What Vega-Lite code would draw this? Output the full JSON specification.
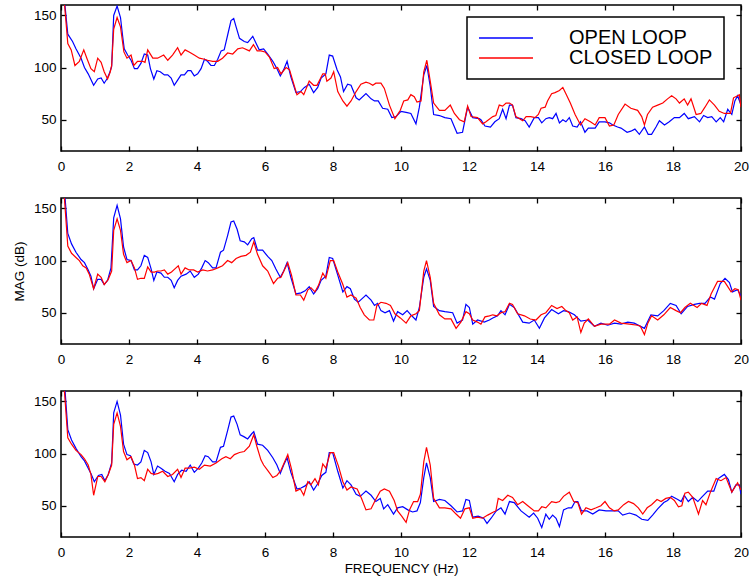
{
  "$schema": "https://vega.github.io/schema/vega-lite/v6.json",
  "background": "white",
  "padding": {"left": 11, "top": 3, "right": 5, "bottom": 5},
  "spacing": 47,
  "bounds": "flush",
  "datasets": {
    "top_open": [
      {"f":0,"m":200},{"f":0.1,"m":165},{"f":0.2,"m":132},{"f":0.34,"m":125},{"f":0.44,"m":118},{"f":0.59,"m":109},{"f":0.69,"m":100},{"f":0.8,"m":94},{"f":0.96,"m":83},{"f":1.08,"m":89},{"f":1.18,"m":90},{"f":1.27,"m":85},{"f":1.35,"m":89},{"f":1.42,"m":94},{"f":1.49,"m":101},{"f":1.55,"m":150},{"f":1.65,"m":159},{"f":1.75,"m":148},{"f":1.81,"m":131},{"f":1.86,"m":118},{"f":1.96,"m":112},{"f":2.06,"m":107},{"f":2.16,"m":99},{"f":2.25,"m":99},{"f":2.35,"m":104},{"f":2.45,"m":113},{"f":2.55,"m":112},{"f":2.63,"m":99},{"f":2.73,"m":89},{"f":2.82,"m":97},{"f":2.92,"m":96},{"f":3.04,"m":93},{"f":3.14,"m":93},{"f":3.24,"m":90},{"f":3.33,"m":83},{"f":3.43,"m":88},{"f":3.53,"m":93},{"f":3.63,"m":93},{"f":3.73,"m":97},{"f":3.82,"m":97},{"f":3.92,"m":92},{"f":4.02,"m":94},{"f":4.12,"m":99},{"f":4.22,"m":108},{"f":4.31,"m":106},{"f":4.41,"m":102},{"f":4.51,"m":102},{"f":4.61,"m":108},{"f":4.71,"m":116},{"f":4.8,"m":117},{"f":4.9,"m":131},{"f":5.0,"m":145},{"f":5.08,"m":147},{"f":5.15,"m":139},{"f":5.25,"m":128},{"f":5.39,"m":125},{"f":5.49,"m":124},{"f":5.64,"m":130},{"f":5.74,"m":123},{"f":5.83,"m":117},{"f":5.96,"m":118},{"f":6.08,"m":113},{"f":6.23,"m":106},{"f":6.35,"m":99},{"f":6.45,"m":92},{"f":6.55,"m":98},{"f":6.65,"m":106},{"f":6.76,"m":91},{"f":6.91,"m":76},{"f":7.04,"m":77},{"f":7.16,"m":81},{"f":7.3,"m":84},{"f":7.43,"m":76},{"f":7.55,"m":81},{"f":7.65,"m":90},{"f":7.79,"m":94},{"f":7.89,"m":112},{"f":7.99,"m":111},{"f":8.12,"m":98},{"f":8.22,"m":91},{"f":8.31,"m":77},{"f":8.43,"m":84},{"f":8.53,"m":83},{"f":8.68,"m":71},{"f":8.77,"m":69},{"f":8.97,"m":75},{"f":9.12,"m":70},{"f":9.22,"m":68},{"f":9.33,"m":68},{"f":9.46,"m":61},{"f":9.61,"m":60},{"f":9.73,"m":52},{"f":9.85,"m":53},{"f":10.0,"m":58},{"f":10.15,"m":57},{"f":10.29,"m":56},{"f":10.44,"m":46},{"f":10.54,"m":62},{"f":10.67,"m":93},{"f":10.76,"m":102},{"f":10.86,"m":82},{"f":10.96,"m":55},{"f":11.13,"m":54},{"f":11.29,"m":52},{"f":11.47,"m":51},{"f":11.65,"m":37},{"f":11.81,"m":38},{"f":11.96,"m":62},{"f":12.11,"m":52},{"f":12.3,"m":51},{"f":12.35,"m":50},{"f":12.47,"m":44},{"f":12.63,"m":43},{"f":12.76,"m":48},{"f":12.89,"m":51},{"f":12.99,"m":60},{"f":13.09,"m":51},{"f":13.19,"m":64},{"f":13.28,"m":64},{"f":13.38,"m":52},{"f":13.53,"m":51},{"f":13.65,"m":49},{"f":13.77,"m":43},{"f":13.92,"m":52},{"f":14.04,"m":52},{"f":14.14,"m":47},{"f":14.26,"m":51},{"f":14.36,"m":52},{"f":14.46,"m":51},{"f":14.56,"m":56},{"f":14.66,"m":47},{"f":14.76,"m":50},{"f":14.85,"m":48},{"f":14.95,"m":52},{"f":15.05,"m":44},{"f":15.18,"m":43},{"f":15.28,"m":48},{"f":15.41,"m":38},{"f":15.51,"m":42},{"f":15.71,"m":42},{"f":15.83,"m":48},{"f":16.0,"m":48},{"f":16.13,"m":47},{"f":16.23,"m":45},{"f":16.37,"m":43},{"f":16.47,"m":42},{"f":16.65,"m":38},{"f":16.76,"m":39},{"f":16.88,"m":41},{"f":17.01,"m":36},{"f":17.16,"m":43},{"f":17.27,"m":36},{"f":17.37,"m":36},{"f":17.5,"m":43},{"f":17.6,"m":49},{"f":17.75,"m":45},{"f":17.89,"m":48},{"f":18.04,"m":52},{"f":18.19,"m":52},{"f":18.33,"m":56},{"f":18.45,"m":51},{"f":18.63,"m":53},{"f":18.78,"m":48},{"f":18.9,"m":54},{"f":19.02,"m":52},{"f":19.14,"m":53},{"f":19.27,"m":48},{"f":19.39,"m":52},{"f":19.49,"m":48},{"f":19.61,"m":60},{"f":19.73,"m":55},{"f":19.82,"m":68},{"f":19.9,"m":73},{"f":20,"m":64}
    ],
    "top_closed": [
      {"f":0,"m":200},{"f":0.1,"m":162},{"f":0.2,"m":123},{"f":0.3,"m":117},{"f":0.41,"m":102},{"f":0.54,"m":106},{"f":0.67,"m":117},{"f":0.76,"m":109},{"f":0.88,"m":99},{"f":0.98,"m":96},{"f":1.08,"m":109},{"f":1.18,"m":105},{"f":1.27,"m":96},{"f":1.37,"m":89},{"f":1.45,"m":96},{"f":1.49,"m":102},{"f":1.55,"m":137},{"f":1.65,"m":148},{"f":1.75,"m":139},{"f":1.85,"m":115},{"f":1.94,"m":109},{"f":2.06,"m":112},{"f":2.14,"m":102},{"f":2.25,"m":106},{"f":2.4,"m":106},{"f":2.47,"m":105},{"f":2.55,"m":117},{"f":2.7,"m":109},{"f":2.84,"m":109},{"f":3.02,"m":112},{"f":3.14,"m":107},{"f":3.28,"m":112},{"f":3.43,"m":119},{"f":3.53,"m":112},{"f":3.65,"m":117},{"f":3.77,"m":115},{"f":3.92,"m":112},{"f":4.07,"m":109},{"f":4.22,"m":108},{"f":4.31,"m":107},{"f":4.46,"m":106},{"f":4.61,"m":106},{"f":4.75,"m":109},{"f":4.9,"m":114},{"f":5.05,"m":113},{"f":5.2,"m":118},{"f":5.34,"m":119},{"f":5.54,"m":116},{"f":5.66,"m":122},{"f":5.77,"m":116},{"f":5.88,"m":116},{"f":6.0,"m":115},{"f":6.13,"m":110},{"f":6.27,"m":99},{"f":6.37,"m":100},{"f":6.47,"m":94},{"f":6.62,"m":100},{"f":6.72,"m":98},{"f":6.94,"m":74},{"f":7.06,"m":77},{"f":7.14,"m":74},{"f":7.3,"m":87},{"f":7.43,"m":83},{"f":7.53,"m":83},{"f":7.7,"m":94},{"f":7.77,"m":94},{"f":7.82,"m":87},{"f":7.94,"m":90},{"f":8.02,"m":96},{"f":8.14,"m":77},{"f":8.29,"m":68},{"f":8.41,"m":63},{"f":8.53,"m":68},{"f":8.68,"m":77},{"f":8.82,"m":84},{"f":8.97,"m":86},{"f":9.07,"m":85},{"f":9.17,"m":83},{"f":9.26,"m":85},{"f":9.41,"m":85},{"f":9.51,"m":80},{"f":9.66,"m":64},{"f":9.82,"m":51},{"f":9.98,"m":59},{"f":10.08,"m":68},{"f":10.2,"m":69},{"f":10.29,"m":74},{"f":10.39,"m":72},{"f":10.47,"m":67},{"f":10.59,"m":68},{"f":10.67,"m":96},{"f":10.76,"m":107},{"f":10.86,"m":87},{"f":10.96,"m":66},{"f":11.13,"m":59},{"f":11.29,"m":59},{"f":11.45,"m":64},{"f":11.57,"m":56},{"f":11.72,"m":50},{"f":11.86,"m":48},{"f":11.96,"m":63},{"f":12.06,"m":53},{"f":12.25,"m":52},{"f":12.4,"m":46},{"f":12.5,"m":48},{"f":12.7,"m":53},{"f":12.79,"m":54},{"f":12.89,"m":64},{"f":12.99,"m":63},{"f":13.09,"m":66},{"f":13.19,"m":66},{"f":13.28,"m":64},{"f":13.38,"m":53},{"f":13.58,"m":49},{"f":13.68,"m":53},{"f":13.82,"m":53},{"f":13.94,"m":52},{"f":14.04,"m":55},{"f":14.12,"m":61},{"f":14.24,"m":62},{"f":14.31,"m":68},{"f":14.43,"m":75},{"f":14.53,"m":76},{"f":14.66,"m":78},{"f":14.76,"m":81},{"f":14.85,"m":75},{"f":14.98,"m":66},{"f":15.12,"m":55},{"f":15.28,"m":45},{"f":15.41,"m":51},{"f":15.57,"m":48},{"f":15.71,"m":45},{"f":15.83,"m":52},{"f":16.0,"m":52},{"f":16.13,"m":44},{"f":16.26,"m":45},{"f":16.39,"m":55},{"f":16.59,"m":65},{"f":16.76,"m":61},{"f":16.96,"m":59},{"f":17.08,"m":53},{"f":17.16,"m":45},{"f":17.25,"m":55},{"f":17.4,"m":62},{"f":17.55,"m":64},{"f":17.7,"m":66},{"f":17.84,"m":70},{"f":17.96,"m":73},{"f":18.09,"m":70},{"f":18.19,"m":66},{"f":18.33,"m":70},{"f":18.43,"m":64},{"f":18.53,"m":70},{"f":18.68,"m":55},{"f":18.82,"m":56},{"f":18.94,"m":62},{"f":19.07,"m":69},{"f":19.22,"m":64},{"f":19.36,"m":58},{"f":19.51,"m":56},{"f":19.69,"m":56},{"f":19.78,"m":71},{"f":19.9,"m":73},{"f":19.95,"m":74},{"f":20,"m":62}
    ],
    "mid_open": [
      {"f":0,"m":200},{"f":0.12,"m":160},{"f":0.2,"m":126},{"f":0.31,"m":116},{"f":0.44,"m":108},{"f":0.59,"m":101},{"f":0.69,"m":98},{"f":0.8,"m":91},{"f":0.88,"m":85},{"f":0.96,"m":73},{"f":1.08,"m":82},{"f":1.18,"m":82},{"f":1.27,"m":77},{"f":1.37,"m":81},{"f":1.47,"m":93},{"f":1.55,"m":141},{"f":1.65,"m":153},{"f":1.75,"m":140},{"f":1.84,"m":113},{"f":1.94,"m":101},{"f":2.06,"m":100},{"f":2.16,"m":91},{"f":2.25,"m":91},{"f":2.35,"m":95},{"f":2.45,"m":105},{"f":2.55,"m":103},{"f":2.65,"m":92},{"f":2.73,"m":81},{"f":2.82,"m":89},{"f":2.94,"m":88},{"f":3.04,"m":84},{"f":3.14,"m":84},{"f":3.24,"m":81},{"f":3.33,"m":74},{"f":3.43,"m":81},{"f":3.53,"m":85},{"f":3.68,"m":87},{"f":3.8,"m":90},{"f":3.92,"m":84},{"f":4.04,"m":87},{"f":4.14,"m":93},{"f":4.24,"m":100},{"f":4.33,"m":98},{"f":4.46,"m":93},{"f":4.56,"m":93},{"f":4.69,"m":108},{"f":4.78,"m":110},{"f":4.9,"m":124},{"f":5.0,"m":137},{"f":5.08,"m":138},{"f":5.18,"m":130},{"f":5.27,"m":119},{"f":5.39,"m":118},{"f":5.49,"m":115},{"f":5.61,"m":121},{"f":5.67,"m":122},{"f":5.78,"m":110},{"f":5.93,"m":110},{"f":6.08,"m":104},{"f":6.2,"m":100},{"f":6.32,"m":92},{"f":6.45,"m":84},{"f":6.55,"m":90},{"f":6.65,"m":98},{"f":6.76,"m":84},{"f":6.91,"m":68},{"f":7.06,"m":69},{"f":7.18,"m":71},{"f":7.3,"m":75},{"f":7.43,"m":68},{"f":7.55,"m":73},{"f":7.65,"m":81},{"f":7.79,"m":85},{"f":7.89,"m":103},{"f":7.99,"m":102},{"f":8.14,"m":86},{"f":8.29,"m":70},{"f":8.41,"m":75},{"f":8.51,"m":73},{"f":8.63,"m":63},{"f":8.74,"m":60},{"f":8.84,"m":63},{"f":8.97,"m":67},{"f":9.12,"m":62},{"f":9.22,"m":57},{"f":9.31,"m":59},{"f":9.41,"m":52},{"f":9.53,"m":50},{"f":9.66,"m":52},{"f":9.78,"m":42},{"f":9.9,"m":51},{"f":10.05,"m":48},{"f":10.18,"m":52},{"f":10.29,"m":48},{"f":10.44,"m":43},{"f":10.54,"m":55},{"f":10.67,"m":84},{"f":10.75,"m":92},{"f":10.86,"m":81},{"f":10.96,"m":56},{"f":11.13,"m":52},{"f":11.29,"m":51},{"f":11.52,"m":50},{"f":11.65,"m":40},{"f":11.81,"m":43},{"f":11.91,"m":58},{"f":12.01,"m":55},{"f":12.11,"m":39},{"f":12.25,"m":43},{"f":12.45,"m":41},{"f":12.6,"m":43},{"f":12.7,"m":45},{"f":12.84,"m":47},{"f":12.94,"m":52},{"f":13.06,"m":48},{"f":13.19,"m":58},{"f":13.33,"m":55},{"f":13.58,"m":41},{"f":13.77,"m":40},{"f":13.92,"m":43},{"f":14.07,"m":35},{"f":14.22,"m":45},{"f":14.43,"m":53},{"f":14.63,"m":49},{"f":14.78,"m":52},{"f":14.92,"m":51},{"f":15.1,"m":48},{"f":15.29,"m":42},{"f":15.49,"m":43},{"f":15.69,"m":37},{"f":15.88,"m":40},{"f":16.08,"m":38},{"f":16.28,"m":40},{"f":16.47,"m":39},{"f":16.67,"m":41},{"f":16.86,"m":40},{"f":17.16,"m":35},{"f":17.35,"m":48},{"f":17.55,"m":47},{"f":17.73,"m":52},{"f":17.92,"m":59},{"f":18.09,"m":57},{"f":18.24,"m":49},{"f":18.43,"m":56},{"f":18.63,"m":58},{"f":18.78,"m":59},{"f":18.94,"m":59},{"f":19.1,"m":65},{"f":19.22,"m":63},{"f":19.39,"m":78},{"f":19.53,"m":83},{"f":19.66,"m":79},{"f":19.75,"m":70},{"f":19.9,"m":72},{"f":20,"m":66}
    ],
    "mid_closed": [
      {"f":0,"m":200},{"f":0.1,"m":160},{"f":0.2,"m":114},{"f":0.31,"m":107},{"f":0.44,"m":103},{"f":0.54,"m":100},{"f":0.64,"m":95},{"f":0.74,"m":93},{"f":0.83,"m":87},{"f":0.96,"m":73},{"f":1.08,"m":87},{"f":1.18,"m":84},{"f":1.27,"m":77},{"f":1.39,"m":82},{"f":1.49,"m":90},{"f":1.55,"m":129},{"f":1.65,"m":140},{"f":1.75,"m":129},{"f":1.84,"m":106},{"f":1.94,"m":98},{"f":2.06,"m":100},{"f":2.16,"m":93},{"f":2.25,"m":82},{"f":2.35,"m":83},{"f":2.45,"m":83},{"f":2.55,"m":94},{"f":2.65,"m":89},{"f":2.75,"m":89},{"f":2.84,"m":90},{"f":2.94,"m":90},{"f":3.04,"m":91},{"f":3.14,"m":87},{"f":3.25,"m":89},{"f":3.35,"m":92},{"f":3.45,"m":95},{"f":3.53,"m":87},{"f":3.65,"m":93},{"f":3.77,"m":91},{"f":3.9,"m":91},{"f":4.02,"m":89},{"f":4.17,"m":91},{"f":4.31,"m":90},{"f":4.46,"m":91},{"f":4.61,"m":93},{"f":4.75,"m":95},{"f":4.9,"m":100},{"f":5.02,"m":98},{"f":5.15,"m":102},{"f":5.29,"m":104},{"f":5.44,"m":105},{"f":5.57,"m":108},{"f":5.67,"m":118},{"f":5.78,"m":106},{"f":5.93,"m":95},{"f":6.08,"m":90},{"f":6.25,"m":78},{"f":6.37,"m":83},{"f":6.47,"m":84},{"f":6.67,"m":98},{"f":6.78,"m":86},{"f":6.91,"m":67},{"f":7.04,"m":67},{"f":7.14,"m":62},{"f":7.26,"m":72},{"f":7.35,"m":74},{"f":7.47,"m":70},{"f":7.57,"m":76},{"f":7.7,"m":88},{"f":7.79,"m":83},{"f":7.92,"m":100},{"f":8.02,"m":100},{"f":8.14,"m":89},{"f":8.29,"m":77},{"f":8.41,"m":65},{"f":8.53,"m":67},{"f":8.68,"m":64},{"f":8.8,"m":55},{"f":8.92,"m":48},{"f":9.07,"m":43},{"f":9.2,"m":43},{"f":9.29,"m":57},{"f":9.41,"m":60},{"f":9.56,"m":59},{"f":9.69,"m":57},{"f":9.82,"m":49},{"f":9.98,"m":45},{"f":10.15,"m":40},{"f":10.29,"m":47},{"f":10.44,"m":49},{"f":10.54,"m":52},{"f":10.67,"m":90},{"f":10.75,"m":100},{"f":10.86,"m":84},{"f":10.96,"m":59},{"f":11.13,"m":48},{"f":11.29,"m":44},{"f":11.47,"m":44},{"f":11.62,"m":35},{"f":11.76,"m":41},{"f":11.91,"m":51},{"f":12.01,"m":49},{"f":12.11,"m":43},{"f":12.25,"m":41},{"f":12.35,"m":39},{"f":12.47,"m":46},{"f":12.6,"m":47},{"f":12.7,"m":48},{"f":12.82,"m":47},{"f":12.94,"m":50},{"f":13.06,"m":51},{"f":13.19,"m":59},{"f":13.28,"m":58},{"f":13.43,"m":49},{"f":13.63,"m":47},{"f":13.8,"m":44},{"f":13.97,"m":43},{"f":14.12,"m":48},{"f":14.26,"m":50},{"f":14.43,"m":57},{"f":14.59,"m":54},{"f":14.73,"m":56},{"f":14.85,"m":52},{"f":14.95,"m":50},{"f":15.05,"m":43},{"f":15.18,"m":46},{"f":15.29,"m":31},{"f":15.39,"m":40},{"f":15.51,"m":44},{"f":15.69,"m":37},{"f":15.88,"m":39},{"f":16.13,"m":39},{"f":16.28,"m":43},{"f":16.47,"m":40},{"f":16.72,"m":39},{"f":16.96,"m":38},{"f":17.04,"m":37},{"f":17.16,"m":29},{"f":17.26,"m":40},{"f":17.37,"m":47},{"f":17.55,"m":43},{"f":17.73,"m":48},{"f":17.92,"m":55},{"f":18.09,"m":52},{"f":18.22,"m":50},{"f":18.35,"m":55},{"f":18.51,"m":59},{"f":18.71,"m":55},{"f":18.84,"m":59},{"f":19.0,"m":57},{"f":19.12,"m":68},{"f":19.31,"m":80},{"f":19.51,"m":80},{"f":19.71,"m":70},{"f":19.82,"m":73},{"f":19.92,"m":72},{"f":20,"m":62}
    ],
    "bot_open": [
      {"f":0,"m":200},{"f":0.12,"m":160},{"f":0.2,"m":123},{"f":0.31,"m":113},{"f":0.44,"m":105},{"f":0.59,"m":97},{"f":0.69,"m":93},{"f":0.8,"m":86},{"f":0.88,"m":81},{"f":0.98,"m":73},{"f":1.1,"m":79},{"f":1.2,"m":80},{"f":1.29,"m":74},{"f":1.39,"m":80},{"f":1.49,"m":91},{"f":1.55,"m":139},{"f":1.65,"m":150},{"f":1.75,"m":137},{"f":1.84,"m":109},{"f":1.94,"m":99},{"f":2.04,"m":98},{"f":2.14,"m":90},{"f":2.25,"m":89},{"f":2.35,"m":92},{"f":2.45,"m":103},{"f":2.55,"m":101},{"f":2.65,"m":92},{"f":2.73,"m":80},{"f":2.84,"m":88},{"f":2.94,"m":86},{"f":3.06,"m":83},{"f":3.19,"m":81},{"f":3.33,"m":73},{"f":3.43,"m":80},{"f":3.55,"m":84},{"f":3.68,"m":83},{"f":3.8,"m":89},{"f":3.92,"m":82},{"f":4.04,"m":86},{"f":4.14,"m":91},{"f":4.24,"m":98},{"f":4.33,"m":97},{"f":4.46,"m":92},{"f":4.56,"m":92},{"f":4.69,"m":106},{"f":4.78,"m":107},{"f":4.9,"m":122},{"f":5.0,"m":135},{"f":5.08,"m":136},{"f":5.18,"m":128},{"f":5.27,"m":118},{"f":5.39,"m":116},{"f":5.49,"m":114},{"f":5.61,"m":119},{"f":5.67,"m":121},{"f":5.78,"m":109},{"f":5.93,"m":108},{"f":6.08,"m":103},{"f":6.23,"m":96},{"f":6.35,"m":89},{"f":6.45,"m":81},{"f":6.55,"m":89},{"f":6.65,"m":96},{"f":6.76,"m":82},{"f":6.94,"m":66},{"f":7.06,"m":67},{"f":7.18,"m":69},{"f":7.3,"m":73},{"f":7.43,"m":65},{"f":7.55,"m":71},{"f":7.67,"m":79},{"f":7.79,"m":82},{"f":7.89,"m":101},{"f":7.99,"m":101},{"f":8.14,"m":83},{"f":8.29,"m":67},{"f":8.41,"m":74},{"f":8.53,"m":70},{"f":8.68,"m":61},{"f":8.8,"m":59},{"f":8.97,"m":64},{"f":9.12,"m":60},{"f":9.26,"m":54},{"f":9.39,"m":57},{"f":9.49,"m":47},{"f":9.61,"m":51},{"f":9.78,"m":42},{"f":9.9,"m":48},{"f":10.05,"m":49},{"f":10.2,"m":46},{"f":10.34,"m":44},{"f":10.47,"m":45},{"f":10.57,"m":53},{"f":10.67,"m":77},{"f":10.75,"m":91},{"f":10.86,"m":77},{"f":10.96,"m":54},{"f":11.13,"m":56},{"f":11.29,"m":55},{"f":11.47,"m":50},{"f":11.65,"m":44},{"f":11.81,"m":45},{"f":11.91,"m":56},{"f":12.01,"m":55},{"f":12.11,"m":39},{"f":12.27,"m":40},{"f":12.43,"m":38},{"f":12.53,"m":33},{"f":12.65,"m":38},{"f":12.8,"m":45},{"f":12.94,"m":48},{"f":13.06,"m":42},{"f":13.19,"m":54},{"f":13.33,"m":53},{"f":13.53,"m":45},{"f":13.77,"m":39},{"f":13.9,"m":43},{"f":14.02,"m":38},{"f":14.14,"m":29},{"f":14.26,"m":42},{"f":14.36,"m":37},{"f":14.46,"m":41},{"f":14.56,"m":38},{"f":14.66,"m":30},{"f":14.78,"m":46},{"f":14.92,"m":48},{"f":15.02,"m":48},{"f":15.12,"m":54},{"f":15.2,"m":54},{"f":15.31,"m":45},{"f":15.47,"m":45},{"f":15.64,"m":42},{"f":15.83,"m":46},{"f":16.03,"m":45},{"f":16.23,"m":45},{"f":16.39,"m":45},{"f":16.52,"m":41},{"f":16.72,"m":43},{"f":16.91,"m":41},{"f":17.08,"m":37},{"f":17.26,"m":36},{"f":17.4,"m":41},{"f":17.55,"m":47},{"f":17.73,"m":53},{"f":17.84,"m":55},{"f":17.96,"m":59},{"f":18.14,"m":56},{"f":18.24,"m":54},{"f":18.33,"m":60},{"f":18.45,"m":54},{"f":18.58,"m":58},{"f":18.73,"m":54},{"f":18.84,"m":58},{"f":19.02,"m":64},{"f":19.2,"m":64},{"f":19.33,"m":76},{"f":19.51,"m":80},{"f":19.63,"m":75},{"f":19.73,"m":63},{"f":19.85,"m":70},{"f":19.95,"m":70},{"f":20,"m":61}
    ],
    "bot_closed": [
      {"f":0,"m":200},{"f":0.1,"m":160},{"f":0.2,"m":115},{"f":0.31,"m":109},{"f":0.44,"m":103},{"f":0.59,"m":99},{"f":0.69,"m":95},{"f":0.8,"m":89},{"f":0.88,"m":80},{"f":0.96,"m":60},{"f":1.08,"m":78},{"f":1.18,"m":78},{"f":1.29,"m":73},{"f":1.39,"m":80},{"f":1.49,"m":89},{"f":1.55,"m":128},{"f":1.65,"m":139},{"f":1.75,"m":126},{"f":1.84,"m":102},{"f":1.94,"m":94},{"f":2.06,"m":97},{"f":2.16,"m":89},{"f":2.25,"m":76},{"f":2.35,"m":77},{"f":2.45,"m":74},{"f":2.55,"m":85},{"f":2.65,"m":81},{"f":2.75,"m":80},{"f":2.86,"m":81},{"f":2.99,"m":83},{"f":3.14,"m":78},{"f":3.28,"m":80},{"f":3.43,"m":85},{"f":3.53,"m":77},{"f":3.65,"m":86},{"f":3.77,"m":86},{"f":3.92,"m":87},{"f":4.07,"m":85},{"f":4.22,"m":89},{"f":4.39,"m":88},{"f":4.56,"m":91},{"f":4.73,"m":95},{"f":4.85,"m":97},{"f":4.98,"m":95},{"f":5.1,"m":99},{"f":5.25,"m":101},{"f":5.39,"m":102},{"f":5.54,"m":107},{"f":5.67,"m":118},{"f":5.76,"m":107},{"f":5.88,"m":94},{"f":5.96,"m":89},{"f":6.1,"m":83},{"f":6.23,"m":77},{"f":6.35,"m":79},{"f":6.47,"m":84},{"f":6.67,"m":99},{"f":6.78,"m":85},{"f":6.91,"m":64},{"f":7.04,"m":66},{"f":7.14,"m":60},{"f":7.26,"m":73},{"f":7.35,"m":70},{"f":7.47,"m":76},{"f":7.57,"m":70},{"f":7.7,"m":90},{"f":7.79,"m":86},{"f":7.92,"m":101},{"f":8.02,"m":101},{"f":8.16,"m":88},{"f":8.29,"m":73},{"f":8.41,"m":65},{"f":8.53,"m":68},{"f":8.71,"m":66},{"f":8.84,"m":57},{"f":8.97,"m":46},{"f":9.12,"m":47},{"f":9.24,"m":55},{"f":9.39,"m":64},{"f":9.51,"m":66},{"f":9.66,"m":64},{"f":9.8,"m":55},{"f":9.9,"m":45},{"f":10.02,"m":40},{"f":10.15,"m":34},{"f":10.25,"m":46},{"f":10.37,"m":54},{"f":10.49,"m":54},{"f":10.57,"m":61},{"f":10.67,"m":92},{"f":10.75,"m":106},{"f":10.86,"m":89},{"f":10.96,"m":57},{"f":11.13,"m":48},{"f":11.29,"m":48},{"f":11.47,"m":47},{"f":11.62,"m":42},{"f":11.75,"m":38},{"f":11.88,"m":47},{"f":12.01,"m":48},{"f":12.11,"m":38},{"f":12.25,"m":39},{"f":12.4,"m":38},{"f":12.55,"m":41},{"f":12.72,"m":44},{"f":12.79,"m":45},{"f":12.86,"m":57},{"f":12.99,"m":55},{"f":13.14,"m":60},{"f":13.28,"m":58},{"f":13.43,"m":51},{"f":13.58,"m":54},{"f":13.73,"m":50},{"f":13.92,"m":45},{"f":14.04,"m":45},{"f":14.14,"m":49},{"f":14.26,"m":48},{"f":14.43,"m":54},{"f":14.56,"m":53},{"f":14.66,"m":54},{"f":14.78,"m":59},{"f":14.95,"m":63},{"f":15.08,"m":54},{"f":15.2,"m":53},{"f":15.31,"m":42},{"f":15.44,"m":48},{"f":15.59,"m":46},{"f":15.74,"m":48},{"f":15.88,"m":50},{"f":16.0,"m":54},{"f":16.13,"m":48},{"f":16.27,"m":45},{"f":16.39,"m":46},{"f":16.55,"m":51},{"f":16.69,"m":54},{"f":16.84,"m":52},{"f":16.98,"m":48},{"f":17.11,"m":42},{"f":17.24,"m":48},{"f":17.37,"m":51},{"f":17.53,"m":56},{"f":17.65,"m":54},{"f":17.79,"m":57},{"f":17.92,"m":58},{"f":18.04,"m":55},{"f":18.16,"m":49},{"f":18.26,"m":50},{"f":18.35,"m":62},{"f":18.45,"m":63},{"f":18.58,"m":58},{"f":18.75,"m":42},{"f":18.87,"m":55},{"f":18.97,"m":51},{"f":19.1,"m":63},{"f":19.27,"m":76},{"f":19.41,"m":74},{"f":19.56,"m":77},{"f":19.73,"m":63},{"f":19.9,"m":72},{"f":20,"m":65}
    ]
  },
  "vconcat": [
    {
      "width": 680, "height": 146,
      "layer": [
        {
          "data": {"name": "top_open"},
          "mark": {"type": "line", "clip": true, "strokeWidth": 1.2},
          "encoding": {
            "x": {"field": "f", "type": "quantitative", "scale": {"domain": [0, 20], "nice": false},
                  "axis": {"orient": "bottom", "values": [0,2,4,6,8,10,12,14,16,18,20], "title": null}},
            "y": {"field": "m", "type": "quantitative", "scale": {"domain": [20, 160], "nice": false},
                  "axis": {"orient": "left", "values": [50,100,150], "title": null}},
            "color": {"datum": "OPEN LOOP",
                      "scale": {"domain": ["OPEN LOOP", "CLOSED LOOP"], "range": ["#0000ff", "#ff0000"]},
                      "legend": {"orient": "none", "legendX": 406, "legendY": 12, "title": null,
                                 "symbolType": "stroke", "symbolSize": 2916, "symbolStrokeWidth": 1.3,
                                 "clipHeight": 20, "rowPadding": 0, "labelFontSize": 20, "labelOffset": 35,
                                 "labelLimit": 400, "padding": 11, "strokeColor": "black", "fillColor": "white"}}
          }
        },
        {
          "data": {"name": "top_closed"},
          "mark": {"type": "line", "clip": true, "strokeWidth": 1.2},
          "encoding": {
            "x": {"field": "f", "type": "quantitative",
                  "axis": {"orient": "top", "values": [0,2,4,6,8,10,12,14,16,18,20], "labels": false, "title": null}},
            "y": {"field": "m", "type": "quantitative",
                  "axis": {"orient": "right", "values": [50,100,150], "labels": false, "title": null}},
            "color": {"datum": "CLOSED LOOP"}
          }
        }
      ],
      "resolve": {"axis": {"x": "independent", "y": "independent"}}
    },
    {
      "width": 680, "height": 146,
      "layer": [
        {
          "data": {"name": "mid_open"},
          "mark": {"type": "line", "clip": true, "strokeWidth": 1.2},
          "encoding": {
            "x": {"field": "f", "type": "quantitative", "scale": {"domain": [0, 20], "nice": false},
                  "axis": {"orient": "bottom", "values": [0,2,4,6,8,10,12,14,16,18,20], "title": null}},
            "y": {"field": "m", "type": "quantitative", "scale": {"domain": [20, 160], "nice": false},
                  "axis": {"orient": "left", "values": [50,100,150], "title": "MAG (dB)"}},
            "color": {"datum": "OPEN LOOP",
                      "scale": {"domain": ["OPEN LOOP", "CLOSED LOOP"], "range": ["#0000ff", "#ff0000"]},
                      "legend": null}
          }
        },
        {
          "data": {"name": "mid_closed"},
          "mark": {"type": "line", "clip": true, "strokeWidth": 1.2},
          "encoding": {
            "x": {"field": "f", "type": "quantitative",
                  "axis": {"orient": "top", "values": [0,2,4,6,8,10,12,14,16,18,20], "labels": false, "title": null}},
            "y": {"field": "m", "type": "quantitative",
                  "axis": {"orient": "right", "values": [50,100,150], "labels": false, "title": null}},
            "color": {"datum": "CLOSED LOOP"}
          }
        }
      ],
      "resolve": {"axis": {"x": "independent", "y": "independent"}}
    },
    {
      "width": 680, "height": 146,
      "layer": [
        {
          "data": {"name": "bot_open"},
          "mark": {"type": "line", "clip": true, "strokeWidth": 1.2},
          "encoding": {
            "x": {"field": "f", "type": "quantitative", "scale": {"domain": [0, 20], "nice": false},
                  "axis": {"orient": "bottom", "values": [0,2,4,6,8,10,12,14,16,18,20], "title": "FREQUENCY (Hz)"}},
            "y": {"field": "m", "type": "quantitative", "scale": {"domain": [20, 160], "nice": false},
                  "axis": {"orient": "left", "values": [50,100,150], "title": null}},
            "color": {"datum": "OPEN LOOP",
                      "scale": {"domain": ["OPEN LOOP", "CLOSED LOOP"], "range": ["#0000ff", "#ff0000"]},
                      "legend": null}
          }
        },
        {
          "data": {"name": "bot_closed"},
          "mark": {"type": "line", "clip": true, "strokeWidth": 1.2},
          "encoding": {
            "x": {"field": "f", "type": "quantitative",
                  "axis": {"orient": "top", "values": [0,2,4,6,8,10,12,14,16,18,20], "labels": false, "title": null}},
            "y": {"field": "m", "type": "quantitative",
                  "axis": {"orient": "right", "values": [50,100,150], "labels": false, "title": null}},
            "color": {"datum": "CLOSED LOOP"}
          }
        }
      ],
      "resolve": {"axis": {"x": "independent", "y": "independent"}}
    }
  ],
  "resolve": {"scale": {"color": "independent"}, "legend": {"color": "independent"}},
  "config": {
    "font": "Liberation Sans",
    "view": {"stroke": "black", "strokeWidth": 1.5},
    "axis": {
      "grid": false, "domain": false,
      "labelFont": "Liberation Sans", "labelFontSize": 13.5, "labelColor": "black", "labelFlush": false,
      "titleFont": "Liberation Sans", "titleFontSize": 13.5, "titleFontWeight": "normal", "titleColor": "black",
      "tickColor": "black", "tickWidth": 1.3, "tickSize": -5
    },
    "axisX": {"labelPadding": 13, "titlePadding": 3},
    "axisY": {"labelPadding": 10, "titlePadding": 7},
    "legend": {"labelFont": "Liberation Sans", "labelColor": "black", "strokeWidth": 1.5}
  }
}
